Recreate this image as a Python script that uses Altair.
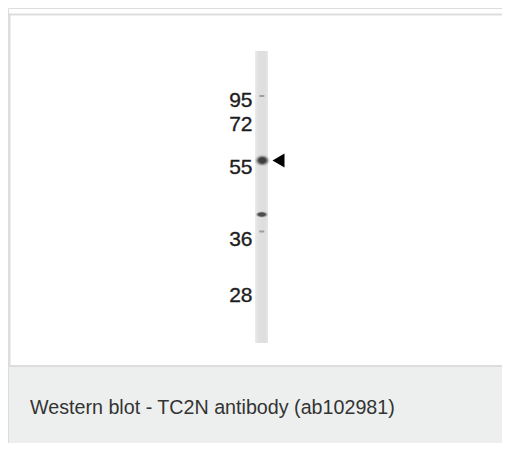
import altair as alt
import pandas as pd

# ---- data ----
marker_labels = ["95", "72", "55", "36", "28"]
marker_baseline = [106.5, 130.5, 173.5, 245.5, 302]   # migration (px) of each ladder label baseline
ladder_ticks = [96, 231.5]                              # faint ladder marks in the lane
band_pos = [160.5, 214.5]                               # detected bands (migration, px)
arrow_pos = [160.5]
caption = ["Western blot - TC2N antibody (ab102981)"]

# ---- layout constants ----
W, H = 494, 435
xs = alt.Scale(domain=[8, 8 + W], range=[0, W], clamp=False, nice=False, zero=False)
ys = alt.Scale(domain=[8, 8 + H], range=[0, H], clamp=False, nice=False, zero=False)
LANE_X0, LANE_X1 = 255, 268
LANE_Y0, LANE_Y1 = 51, 343
LANE_C = 262.3
BORDER = "#dddddd"

def X(f, **kw):
    return alt.X(f, type="quantitative", scale=xs, axis=None, **kw)

def Y(f, **kw):
    return alt.Y(f, type="quantitative", scale=ys, axis=None, **kw)

cap_box = pd.DataFrame({"x": [9], "x2": [900], "y": [366.5], "y2": [900]})
lane = pd.DataFrame({"x": [LANE_X0], "x2": [LANE_X1], "y": [LANE_Y0], "y2": [LANE_Y1]})

capbg = alt.Chart(cap_box).mark_rect(fill="#edefee").encode(
    x=X("x"), x2="x2", y=Y("y"), y2="y2")

hlines = pd.DataFrame({"x": [9, 9], "x2": [900, 900], "y": [14.5, 366]})
vline = pd.DataFrame({"x": [9.5], "y": [13.5], "y2": [367]})
h_layer = alt.Chart(hlines).mark_rule(color=BORDER, strokeWidth=2).encode(
    x=X("x"), x2="x2", y=Y("y"))
v_layer = alt.Chart(vline).mark_rule(color=BORDER, strokeWidth=2).encode(
    x=X("x"), y=Y("y"), y2="y2")

lane_layer = alt.Chart(lane).mark_rect(
    color=alt.LinearGradient(
        gradient="linear", x1=0, x2=1, y1=0, y2=0,
        stops=[alt.GradientStop(offset=0, color="#ececec"),
               alt.GradientStop(offset=0.25, color="#e0e0e0"),
               alt.GradientStop(offset=0.75, color="#dedede"),
               alt.GradientStop(offset=1, color="#e6e6e6")])
).encode(x=X("x"), x2="x2", y=Y("y"), y2="y2")

ELLIPSE_R = "M-1,0A1,0.75 0 1,1 1,0A1,0.75 0 1,1 -1,0Z"
ELLIPSE_F = "M-1,0A1,0.5 0 1,1 1,0A1,0.5 0 1,1 -1,0Z"

b1 = pd.DataFrame({"y": band_pos[:1]}); b1["xc"] = LANE_C
b2 = pd.DataFrame({"y": band_pos[1:]}); b2["xc"] = LANE_C - 0.5

def blob(df, shape, sizes, opac, col):
    return [alt.Chart(df).mark_point(filled=True, shape=shape, color=col, opacity=o, size=s,
                                     strokeWidth=0)
            .encode(x=X("xc"), y=Y("y")) for s, o in zip(sizes, opac)]

band_layers = (blob(b1, ELLIPSE_R, [230, 150, 95, 50], [0.12, 0.3, 0.55, 0.7], "#303030")
               + blob(b2, ELLIPSE_F, [150, 100, 60], [0.15, 0.45, 0.75], "#3a3a3a"))

ticks = pd.DataFrame({"y": ladder_ticks})
ticks["xc"] = LANE_C - 0.5
tick_layer = alt.Chart(ticks).mark_tick(orient="horizontal", color="#8a8a8a", size=5, thickness=2,
                                        opacity=0.75).encode(x=X("xc"), y=Y("y"))

arrow = pd.DataFrame({"y": arrow_pos})
arrow["x"] = 278.5
arrow_layer = alt.Chart(arrow).mark_point(shape="triangle-left", filled=True, color="black",
                                          opacity=1, size=190).encode(x=X("x"), y=Y("y"))

mk = pd.DataFrame({"label": marker_labels, "y": marker_baseline})
mk["x"] = 252.5
labels = alt.Chart(mk).mark_text(align="right", baseline="alphabetic", font="Liberation Sans",
                                 fontSize=21, color="#1e1e1e", stroke="#1e1e1e",
                                 strokeWidth=0.35).encode(
    x=X("x"), y=Y("y"), text="label:N")

cp = pd.DataFrame({"t": caption, "x": [30], "y": [414]})
cap_text = alt.Chart(cp).mark_text(align="left", baseline="alphabetic", font="Liberation Sans",
                                   fontSize=19.7, color="#333333").encode(
    x=X("x"), y=Y("y"), text="t:N")

chart = alt.layer(capbg, h_layer, v_layer, lane_layer, tick_layer, *band_layers, arrow_layer,
                  labels, cap_text).properties(
    width=W, height=H, autosize=alt.AutoSizeParams(type="none"), padding=0
).configure_view(stroke=None).configure(background="white")

chart.save("out.html", embed_options={"renderer": "svg", "actions": False})
